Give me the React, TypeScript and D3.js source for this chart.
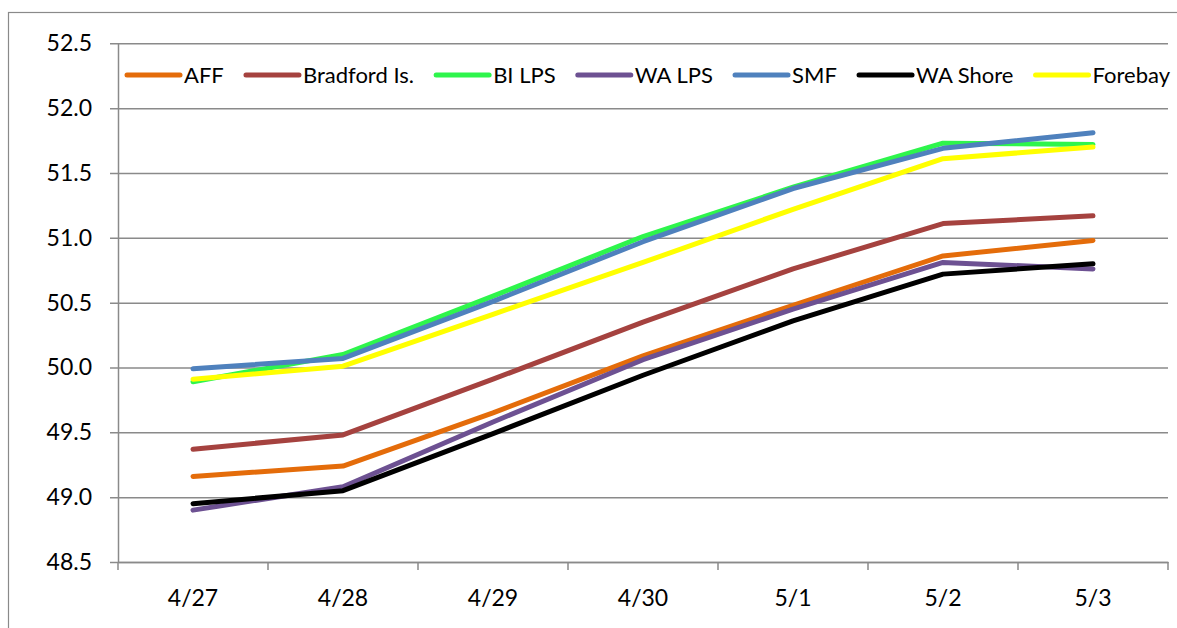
import { useEffect, useRef } from 'react'
import * as d3 from 'd3'

const WIDTH = 1177
const HEIGHT = 628
const GRID_COLOR = '#8a8a8a'
const FONT = 'Lato, "Liberation Sans", sans-serif'

const categories = ['4/27', '4/28', '4/29', '4/30', '5/1', '5/2', '5/3']
const yTicks = [48.5, 49.0, 49.5, 50.0, 50.5, 51.0, 51.5, 52.0, 52.5]

const seriesNames = ['AFF', 'Bradford Is.', 'BI LPS', 'WA LPS', 'SMF', 'WA Shore', 'Forebay']
const seriesColors = ['#E46C0A', '#A5423F', '#2EF54C', '#6D5192', '#4F81BD', '#000000', '#FFFF00']

const aff = [49.16, 49.24, 49.65, 50.09, 50.48, 50.86, 50.98]
const bradford = [49.37, 49.48, 49.91, 50.35, 50.76, 51.11, 51.17]
const biLps = [49.89, 50.1, 50.55, 51.01, 51.39, 51.73, 51.72]
const waLps = [48.9, 49.08, 49.58, 50.06, 50.45, 50.81, 50.76]
const smf = [49.99, 50.07, 50.51, 50.97, 51.38, 51.69, 51.81]
const waShore = [48.95, 49.05, 49.49, 49.94, 50.36, 50.72, 50.8]
const forebay = [49.91, 50.01, 50.41, 50.81, 51.22, 51.61, 51.7]

const seriesValues = [aff, bradford, biLps, waLps, smf, waShore, forebay]

const PLOT_LEFT = 118
const PLOT_RIGHT = 1168
const PLOT_TOP = 43.3
const PLOT_BOTTOM = 562

export default function App() {
  const svgRef = useRef<SVGSVGElement>(null)

  useEffect(() => {
    const el = svgRef.current
    if (!el) return
    const svg = d3.select(el)
    svg.selectAll('*').remove()

    // chart frame
    svg
      .append('rect')
      .attr('x', 8.5)
      .attr('y', 12.5)
      .attr('width', WIDTH + 20)
      .attr('height', HEIGHT + 20)
      .attr('fill', '#fff')
      .attr('stroke', GRID_COLOR)
      .attr('stroke-width', 1.2)

    const x = d3
      .scaleBand<string>()
      .domain(categories)
      .range([PLOT_LEFT, PLOT_RIGHT])
    const y = d3
      .scaleLinear()
      .domain([48.5, 52.5])
      .range([PLOT_BOTTOM, PLOT_TOP])

    // gridlines + y axis
    const yAxis = d3
      .axisLeft(y)
      .tickValues(yTicks)
      .tickFormat((d: d3.NumberValue) => d3.format('.1f')(Number(d)))
      .tickSize(-(PLOT_RIGHT - PLOT_LEFT))
      .tickSizeOuter(0)
      .tickPadding(26)

    svg
      .append('g')
      .attr('transform', `translate(${PLOT_LEFT},0)`)
      .call(yAxis)
      .call((g) => g.select('.domain').attr('stroke', GRID_COLOR).attr('stroke-width', 1.5))
      .call((g) =>
        g.selectAll('.tick line').attr('stroke', GRID_COLOR).attr('stroke-width', 1.5).attr('x1', -8)
      )
      .call((g) =>
        g
          .selectAll('.tick text')
          .attr('fill', '#000')
          .style('font-family', FONT)
          .style('font-size', '23px')
      )

    // x axis
    const xAxis = d3
      .axisBottom(x)
      .tickSize(0)
      .tickPadding(0)
    const xg = svg
      .append('g')
      .attr('transform', `translate(0,${PLOT_BOTTOM})`)
      .call(xAxis)
    xg.select('.domain').attr('stroke', GRID_COLOR).attr('stroke-width', 1.5)
    xg.selectAll('.tick text')
      .attr('fill', '#000')
      .attr('dy', null)
      .attr('y', 44)
      .style('font-family', FONT)
      .style('font-size', '23px')
    const boundaries = categories.map((c) => x(c) ?? 0).concat([PLOT_RIGHT])
    xg.selectAll('line.bound')
      .data(boundaries)
      .join('line')
      .attr('class', 'bound')
      .attr('x1', (d) => d)
      .attr('x2', (d) => d)
      .attr('y1', 0)
      .attr('y2', 8)
      .attr('stroke', GRID_COLOR)
      .attr('stroke-width', 1.5)

    // series lines
    const line = d3
      .line<number>()
      .x((_, i) => (x(categories[i]) ?? 0) + x.bandwidth() / 2)
      .y((d) => y(d))

    seriesValues.forEach((vals, i) => {
      svg
        .append('path')
        .datum(vals)
        .attr('d', line)
        .attr('fill', 'none')
        .attr('stroke', seriesColors[i])
        .attr('stroke-width', 5)
        .attr('stroke-linecap', 'round')
        .attr('stroke-linejoin', 'round')
    })

    // legend
    const legendY = 75
    const lineLen = 53
    const textGap = 4
    const legendStart = 127
    const legendEnd = 1170
    const lg = svg.append('g')
    const texts = seriesNames.map((name) =>
      lg
        .append('text')
        .text(name)
        .attr('y', legendY)
        .attr('dy', '0.35em')
        .style('font-family', FONT)
        .style('font-size', '22px')
        .attr('fill', '#000')
    )
    const widths = texts.map((t) => (t.node() as SVGTextElement).getComputedTextLength())
    const total = d3.sum(widths) + seriesNames.length * (lineLen + textGap)
    const gap = (legendEnd - legendStart - total) / (seriesNames.length - 1)
    let cx = legendStart
    seriesNames.forEach((_, i) => {
      lg.append('line')
        .attr('x1', cx)
        .attr('x2', cx + lineLen)
        .attr('y1', legendY)
        .attr('y2', legendY)
        .attr('stroke', seriesColors[i])
        .attr('stroke-width', 5)
        .attr('stroke-linecap', 'round')
      texts[i].attr('x', cx + lineLen + textGap)
      cx += lineLen + textGap + widths[i] + gap
    })
  }, [])

  return (
    <div style={{ position: 'absolute', left: 0, top: 0 }}>
      <svg ref={svgRef} width={WIDTH} height={HEIGHT} style={{ display: 'block' }} />
    </div>
  )
}
